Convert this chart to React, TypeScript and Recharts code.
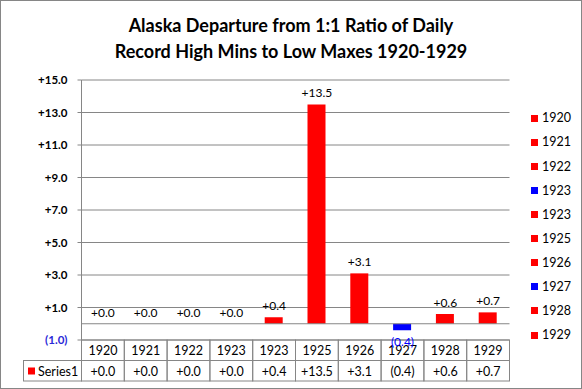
import { ComposedChart, Bar, Line, XAxis, YAxis, CartesianGrid, ReferenceLine, Cell, LabelList } from "recharts";

// chart data
const years = ["1920", "1921", "1922", "1923", "1923", "1925", "1926", "1927", "1928", "1929"];
const departures = [0.0, 0.0, 0.0, 0.0, 0.4, 13.5, 3.1, -0.4, 0.6, 0.7];
const pointColors = ["#ff0000", "#ff0000", "#ff0000", "#0000ff", "#ff0000", "#ff0000", "#ff0000", "#0000ff", "#ff0000", "#ff0000"];
const yTicks = [-1, 1, 3, 5, 7, 9, 11, 13, 15];
const seriesName = "Series1";

const RED = "#ff0000";
const BLUE = "#0000ff";
const GRID = "#868686";
const FONT = "Lato, 'Open Sans', sans-serif";

const W = 582;
const H = 389;
const PLOT_LEFT = 81.5;
const PLOT_RIGHT = 509.5;
const PLOT_TOP = 80;
const PLOT_BOTTOM = 340;
const ROW_H = 20.5;
const BAND = (PLOT_RIGHT - PLOT_LEFT) / years.length;

const fmt = (v: number) => (v < 0 ? `(${Math.abs(v).toFixed(1)})` : `+${v.toFixed(1)}`);

const data = years.map((year, i) => ({ idx: i, year, value: departures[i] }));

const YTick = (props: any) => {
  const { x, y, payload } = props;
  const v = Number(payload.value);
  return (
    <text x={x - 8} y={y} dy={4} textAnchor="end" fontFamily={FONT} fontSize={11.5} fontWeight="bold" fill={v < 0 ? "#2a2ad8" : "#000"}>
      {fmt(v)}
    </text>
  );
};

// category axis drawn as the data table under the plot
const TableTick = (props: any) => {
  const { x, payload } = props;
  const i = Number(payload.value);
  const left = x - BAND / 2;
  return (
    <g>
      <rect x={left} y={PLOT_BOTTOM} width={BAND} height={ROW_H} fill="none" stroke={GRID} />
      <rect x={left} y={PLOT_BOTTOM + ROW_H} width={BAND} height={ROW_H} fill="none" stroke={GRID} />
      <text x={x} y={PLOT_BOTTOM + 14.5} textAnchor="middle" fontFamily={FONT} fontSize={12.5} fill="#000">
        {years[i]}
      </text>
      <text x={x} y={PLOT_BOTTOM + ROW_H + 15} textAnchor="middle" fontFamily={FONT} fontSize={12.5} fill="#000">
        {fmt(departures[i])}
      </text>
      {i === 0 && (
        <g>
          <rect x={23.5} y={PLOT_BOTTOM + ROW_H} width={PLOT_LEFT - 23.5} height={ROW_H} fill="none" stroke={GRID} />
          <rect x={28} y={PLOT_BOTTOM + ROW_H + 7} width={7} height={7} fill={RED} />
          <text x={38} y={PLOT_BOTTOM + ROW_H + 15} fontFamily={FONT} fontSize={12.5} fill="#000">
            {seriesName}
          </text>
        </g>
      )}
    </g>
  );
};

// labels hang off an invisible line so zero values get one too
const BarLabel = (props: any) => {
  const { x, y, value } = props;
  const v = Number(value);
  const cx = Number(x);
  const cy = Number(y);
  if (v < 0) {
    return (
      <text x={cx} y={cy + 16} textAnchor="middle" fontFamily={FONT} fontSize={12} fill={BLUE}>
        {fmt(v)}
      </text>
    );
  }
  return (
    <text x={cx} y={cy - 7} textAnchor="middle" fontFamily={FONT} fontSize={12} fill="#000">
      {fmt(v)}
    </text>
  );
};

export default function App() {
  return (
    <div style={{ position: "absolute", left: 0, top: 0, width: W, height: H, background: "#fff", fontFamily: FONT }}>
      <div style={{ position: "absolute", left: 0, top: 0, width: W, height: H, border: `1px solid ${GRID}`, boxSizing: "border-box" }} />
      <div style={{ position: "absolute", left: 0, top: 12, width: W, textAlign: "center", fontWeight: "bold", fontSize: 18, lineHeight: "26px", color: "#000" }}>
        <div>Alaska Departure from 1:1 Ratio of Daily</div>
        <div>Record High Mins to Low Maxes 1920-1929</div>
      </div>
      <div style={{ position: "absolute", left: 0, top: 0 }}>
        <ComposedChart
          width={W}
          height={H}
          data={data}
          margin={{ top: PLOT_TOP, right: W - PLOT_RIGHT, bottom: 0, left: PLOT_LEFT - 60 }}
        >
          <CartesianGrid vertical={false} stroke={GRID} />
          <XAxis dataKey="idx" type="category" axisLine={false} tickLine={false} height={H - PLOT_BOTTOM} tick={<TableTick />} interval={0} />
          <YAxis
            width={60}
            domain={[-1, 15]}
            ticks={yTicks}
            interval={0}
            tickSize={4}
            axisLine={{ stroke: GRID }}
            tickLine={{ stroke: GRID }}
            tick={<YTick />}
          />
          <ReferenceLine y={0} stroke={GRID} />
          <Bar dataKey="value" barSize={18} isAnimationActive={false}>
            {data.map((d) => (
              <Cell key={d.idx} fill={pointColors[d.idx]} />
            ))}
          </Bar>
          <Line dataKey="value" stroke="none" dot={false} activeDot={false} isAnimationActive={false}>
            <LabelList dataKey="value" content={<BarLabel />} />
          </Line>
        </ComposedChart>
      </div>
      {years.map((y, i) => (
        <div
          key={i}
          style={{ position: "absolute", left: 531, top: 118.3 + i * 24.1 - 8, height: 16, lineHeight: "16px", fontSize: 12.5, color: "#000", whiteSpace: "nowrap" }}
        >
          <span style={{ display: "inline-block", width: 7, height: 7, background: pointColors[i], marginRight: 4, verticalAlign: "middle", position: "relative", top: -1 }} />
          {y}
        </div>
      ))}
    </div>
  );
}
